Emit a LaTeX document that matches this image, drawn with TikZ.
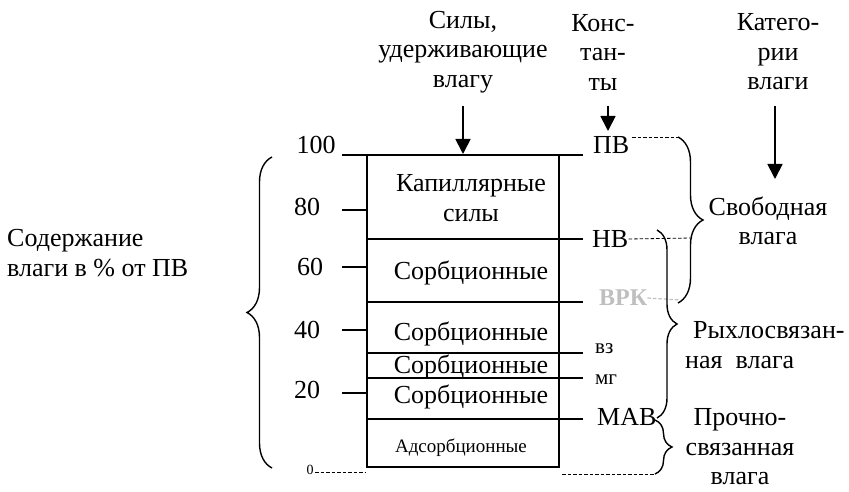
\documentclass[tikz,border=0pt]{standalone}
\usepackage{fontspec}
\setmainfont{Liberation Serif}
\usetikzlibrary{arrows.meta,decorations.pathreplacing}
\begin{document}
\begin{tikzpicture}[x=1pt,y=-1pt,
  txt/.style={font=\fontsize{26}{29.5}\selectfont, inner sep=0pt, align=center},
  smalltxt/.style={font=\fontsize{19}{22}\selectfont, inner sep=0pt},
  lvltxt/.style={font=\fontsize{21}{24}\selectfont, inner sep=0pt},
  tinytxt/.style={font=\fontsize{14}{16}\selectfont, inner sep=0pt},
  ln/.style={line width=1.8pt},
  arr/.style={line width=1.8pt, -{Triangle[length=15pt,width=15pt]}},
  brc/.style={line width=1.4pt, decorate, decoration={brace, amplitude=#1}},
  dsh/.style={line width=0.8pt, dash pattern=on 3.5pt off 2pt},
]
\useasboundingbox (0,0) rectangle (849,492);

% headings
\node[txt] (h1) at (463,52) {Силы,\\удерживающие\\влагу};
\node[txt] (h2) at (603,52) {Конс-\\тан-\\ты};
\node[txt] (h3) at (778,52) {Катего-\\рии\\влаги};

\coordinate (a1s) at (463,106); \coordinate (a1e) at (463,154);
\coordinate (a2s) at (608,106); \coordinate (a2e) at (608,131);
\coordinate (a3s) at (775,106); \coordinate (a3e) at (775,179);
\draw[arr] (a1s) -- (a1e);
\draw[arr] (a2s) -- (a2e);
\draw[arr] (a3s) -- (a3e);

% box and levels
\draw[ln] (342,155) -- (583,155);
\draw[ln] (367,155) -- (367,467) -- (559,467) -- (559,155);
\foreach \y in {239,302,353,378,419} \draw[ln] (367,\y) -- (583,\y);
\foreach \y in {210,267,330,393} \draw[ln] (342,\y) -- (367,\y);

% scale labels
\node[txt] (l100) at (316,145) {100};
\node[txt] (l80) at (307,207) {80};
\node[txt] (l60) at (310,267) {60};
\node[txt] (l40) at (307,330) {40};
\node[txt] (l20) at (307,390) {20};
\node[tinytxt] (l0) at (310,470) {0};
\coordinate (d0s) at (315,472); \coordinate (d0e) at (366,472);
\draw[dsh] (d0s) -- (d0e);

% box content
\node[txt] (k1) at (471,198) {Капиллярные\\силы};
\node[txt] (s1) at (471,273) {Сорбционные};
\node[txt] (s2) at (471,334) {Сорбционные};
\node[txt] (s3) at (471,367) {Сорбционные};
\node[txt] (s4) at (471,397) {Сорбционные};
\node[smalltxt] (ad) at (461,448) {Адсорбционные};

% left label and brace
\node[txt, align=left, anchor=west] (cont) at (7,253) {Содержание\\влаги в \% от ПВ};
\coordinate (lb1) at (272,468); \coordinate (lb2) at (272,157);
\draw[brc=25pt] (lb1) -- (lb2);

% constants
\node[txt, anchor=west] (pv) at (593,145) {ПВ};
\node[txt, anchor=west] (nv) at (592,239) {НВ};
\node[txt, anchor=west, font=\fontsize{24}{26}\bfseries, text=black!25] (vrk) at (599,298) {ВРК};
\node[lvltxt, anchor=west] (vz) at (595,349) {вз};
\node[lvltxt, anchor=west] (mg) at (595,380) {мг};
\node[txt, anchor=west] (mav) at (597,417) {МАВ};

% dashed leaders
\coordinate (pvs) at (632,137);
\coordinate (pvd) at (678,137);
\draw[dsh] (pvs) -- (pvd);
\coordinate (nvd) at (692,238);
\draw[dsh] (nv.east) -- (nvd);
\coordinate (vrkd) at (680,300);
\draw[dsh, black!25, line width=1.2pt] (vrk.east) -- (vrkd);
\coordinate (bds) at (562,474); \coordinate (bde) at (655,474);
\draw[dsh] (bds) -- (bde);

% right braces
\coordinate (b1e) at (678,303);
\draw[brc=25pt] (pvd) -- (b1e);
\coordinate (b2s) at (657,230); \coordinate (b2e) at (657,418);
\draw[brc=20pt] (b2s) -- (b2e);
\coordinate (b3s) at (655,420);
\draw[brc=17pt] (b3s) -- (bde);

% categories
\node[txt] (free) at (768,221) {Свободная\\влага};
\node[txt, anchor=west] (loose1) at (693,330) {Рыхлосвязан-};
\node[txt, anchor=west] (loose2) at (685,363) {ная\ \ влага};
\node[txt] (firm) at (740,447) {Прочно-\\связанная\\влага};
\end{tikzpicture}
\end{document}
